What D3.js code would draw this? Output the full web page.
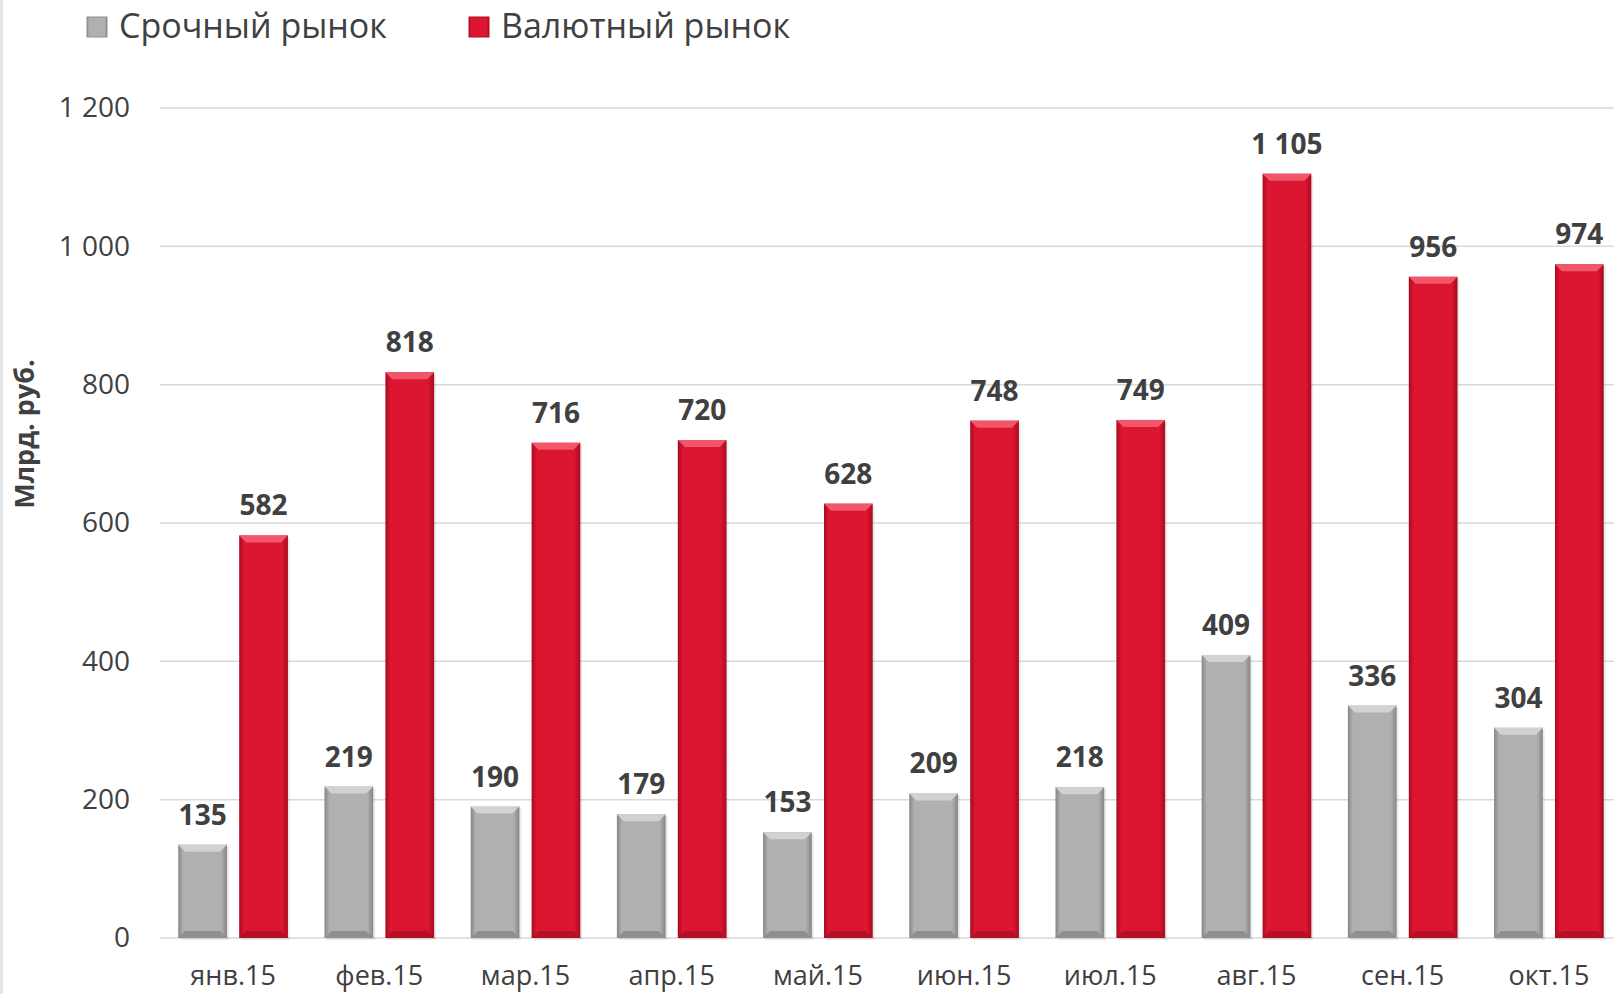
<!DOCTYPE html>
<html>
<head>
<meta charset="utf-8">
<script src="https://cdn.jsdelivr.net/npm/d3@7"></script>
<style>
  body { margin: 0; background: #fff; }
  text { font-family: "Open Sans", "Noto Sans", sans-serif; fill: #404040; }
</style>
</head>
<body>
<div id="chart-area"></div>
<script>
// Data
let months = ["янв.15", "фев.15", "мар.15", "апр.15", "май.15", "июн.15", "июл.15", "авг.15", "сен.15", "окт.15"];
let futures = [135, 219, 190, 179, 153, 209, 218, 409, 336, 304];
let fx = [582, 818, 716, 720, 628, 748, 749, 1105, 956, 974];
let seriesNames = ["Срочный рынок", "Валютный рынок"];
let yTicks = [0, 200, 400, 600, 800, 1000, 1200];

let W = 1614, H = 994;
let margin = { top: 108, right: 1622, bottom: 938, left: 160 };

let svg = d3.select("#chart-area")
  .append("svg")
  .attr("width", W)
  .attr("height", H);

// light border on the left edge
svg.append("rect").attr("x", 0).attr("y", 0).attr("width", 3).attr("height", H).attr("fill", "#e6e6e6");

// gradients
let defs = svg.append("defs");
function makeGrad(id, edge, mid) {
  let g = defs.append("linearGradient").attr("id", id).attr("x1", 0).attr("x2", 1).attr("y1", 0).attr("y2", 0);
  g.append("stop").attr("offset", "0%").attr("stop-color", edge);
  g.append("stop").attr("offset", "10%").attr("stop-color", mid);
  g.append("stop").attr("offset", "88%").attr("stop-color", mid);
  g.append("stop").attr("offset", "100%").attr("stop-color", edge);
}
makeGrad("g0", "#858585", "#b0b0b0");
makeGrad("g1", "#a50c20", "#dc1530");
let tops = ["#d2d2d2", "#f2566a"];
let bots = ["#8f8f8f", "#b50f25"];

// Scales
let x0 = d3.scaleBand().domain(months).range([margin.left, margin.right]).paddingInner(0.25).paddingOuter(0.125);
let x1 = d3.scaleBand().domain([0, 1]).range([0, x0.bandwidth()]).paddingInner(0.2);
let y = d3.scaleLinear().domain([0, 1200]).range([margin.bottom, margin.top]);
let base = margin.bottom;

// gridlines
svg.append("g")
  .selectAll("line")
  .data(yTicks)
  .enter()
  .append("line")
  .attr("x1", margin.left)
  .attr("x2", W)
  .attr("y1", d => y(d))
  .attr("y2", d => y(d))
  .attr("stroke", "#d9d9d9")
  .attr("stroke-width", 1.5);

// y axis labels
let yAxis = d3.axisLeft(y).tickValues(yTicks).tickSize(0).tickPadding(30)
  .tickFormat(d => d3.format(",")(d).replace(/,/g, " "));
let gy = svg.append("g").attr("transform", "translate(" + margin.left + ",0)").call(yAxis);
gy.select(".domain").remove();
gy.selectAll("text").style("font-size", "28px").attr("fill", "#404040").attr("font-family", null);

// x axis labels
let xAxis = d3.axisBottom(x0).tickSize(0).tickPadding(28);
let gx = svg.append("g").attr("transform", "translate(0," + base + ")").call(xAxis);
gx.select(".domain").remove();
gx.selectAll("text").style("font-size", "27px").attr("fill", "#404040").attr("font-family", null);

// y title
svg.append("text")
  .attr("transform", "translate(34,434) rotate(-90)")
  .attr("text-anchor", "middle")
  .style("font-size", "27px")
  .style("font-weight", "bold")
  .text("Млрд. руб.");

// bars
let rows = months.map((m, i) => ({ month: m, vals: [futures[i], fx[i]] }));
let groups = svg.append("g")
  .selectAll("g")
  .data(rows)
  .enter()
  .append("g")
  .attr("transform", d => "translate(" + x0(d.month) + ",0)");

let bars = groups.selectAll("g.bar")
  .data(d => d.vals.map((v, s) => ({ v: v, s: s })))
  .enter()
  .append("g")
  .attr("class", "bar");

let bw = x1.bandwidth();
let bev = 7;

// soft shadow
bars.append("rect")
  .attr("x", d => x1(d.s) + 2)
  .attr("y", d => y(d.v) + 2)
  .attr("width", bw)
  .attr("height", d => base - y(d.v))
  .attr("fill", "#000")
  .attr("opacity", 0.08);

bars.append("rect")
  .attr("x", d => x1(d.s))
  .attr("y", d => y(d.v))
  .attr("width", bw)
  .attr("height", d => base - y(d.v))
  .attr("fill", d => "url(#g" + d.s + ")");

// top bevel
bars.append("polygon")
  .attr("points", d => {
    let xl = x1(d.s), xr = xl + bw, yt = y(d.v);
    return [[xl, yt], [xr, yt], [xr - bev, yt + bev], [xl + bev, yt + bev]].map(p => p.join(",")).join(" ");
  })
  .attr("fill", d => tops[d.s]);

// bottom bevel
bars.append("polygon")
  .attr("points", d => {
    let xl = x1(d.s), xr = xl + bw;
    return [[xl, base], [xr, base], [xr - bev, base - bev], [xl + bev, base - bev]].map(p => p.join(",")).join(" ");
  })
  .attr("fill", d => bots[d.s]);

// value labels
bars.append("text")
  .attr("x", d => x1(d.s) + bw / 2)
  .attr("y", d => y(d.v) - 20)
  .attr("text-anchor", "middle")
  .style("font-size", "28px")
  .style("font-weight", "bold")
  .text(d => d3.format(",")(d.v).replace(/,/g, " "));

// legend
let legendX = [87, 469];
let legend = svg.append("g")
  .selectAll("g")
  .data(seriesNames)
  .enter()
  .append("g")
  .attr("transform", (d, i) => "translate(" + legendX[i] + ",17)");

legend.append("rect")
  .attr("width", 20)
  .attr("height", 20)
  .attr("fill", (d, i) => "url(#g" + i + ")")
  .attr("stroke", (d, i) => bots[i])
  .attr("stroke-width", 1);

legend.append("text")
  .attr("x", 32)
  .attr("y", 12)
  .attr("dominant-baseline", "middle")
  .style("font-size", "34px")
  .text(d => d);
</script>
</body>
</html>
